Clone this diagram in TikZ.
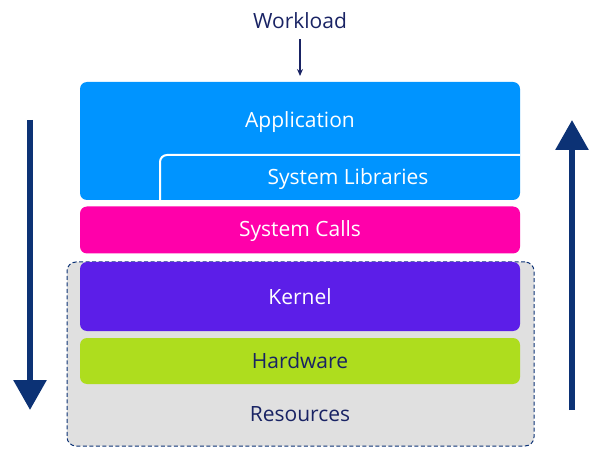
\documentclass[tikz,border=0pt]{standalone}
\usepackage{fontspec}
\setmainfont{Open Sans}
\usetikzlibrary{arrows.meta}
\definecolor{appblue}{RGB}{0,148,255}
\definecolor{callpink}{RGB}{255,0,170}
\definecolor{kernpurple}{RGB}{92,30,232}
\definecolor{hwgreen}{RGB}{174,221,30}
\definecolor{resgray}{RGB}{224,224,224}
\definecolor{navy}{RGB}{12,50,117}
\definecolor{textnavy}{RGB}{25,35,100}
\begin{document}
\begin{tikzpicture}[x=1pt,y=-1pt,
  layer/.style={rectangle,rounded corners=7pt,minimum width=440pt,inner sep=0pt},
  lbl/.style={inner sep=0pt,font=\fontsize{21}{25}\selectfont},
  bigarrow/.style={draw=navy,line width=6pt,-{Triangle[width=32pt,length=30pt]}},
]
\useasboundingbox (0,0) rectangle (600,457);
% resources container
\node[rectangle,rounded corners=9pt,fill=resgray,draw=navy,dash pattern=on 4pt off 2.5pt,line width=1pt,minimum width=467pt,minimum height=184pt] (res) at (300.5,354) {};
\node[lbl,text=textnavy] (restext) at (300,414) {Resources};
% layers
\node[layer,fill=appblue,minimum height=118pt] (app) at (300,141) {};
\node[lbl,text=white] (apptext) at (300,122) {Application};
\draw[white,line width=2pt,rounded corners=7pt] (160,200) -- (160,155) -- (520,155);
\node[lbl,text=white] (syslib) at (348,179) {System Libraries};
\node[layer,fill=callpink,minimum height=47pt] (calls) at (300,230) {};
\node[lbl,text=white] (callstext) at (300,231.5) {System Calls};
\node[layer,fill=kernpurple,minimum height=69pt] (kernel) at (300,296.5) {};
\node[lbl,text=white] (kerntext) at (300,297) {Kernel};
\node[layer,fill=hwgreen,minimum height=46pt] (hw) at (300,361) {};
\node[lbl,text=textnavy] (hwtext) at (300,361) {Hardware};
% workload
\node[lbl,text=textnavy] (work) at (300,20.5) {Workload};
\coordinate (wtip) at (300,76);
\draw[textnavy,line width=1.3pt,-{Stealth[width=6pt,length=7pt]}] (work.south) ++(0,10.5) -- (wtip);
% big arrows
\coordinate (ltop) at (30,120);
\coordinate (lbot) at (30,410);
\coordinate (rbot) at (572,410);
\coordinate (rtop) at (572,120);
\draw[bigarrow] (ltop) -- (lbot);
\draw[bigarrow] (rbot) -- (rtop);
\end{tikzpicture}
\end{document}
